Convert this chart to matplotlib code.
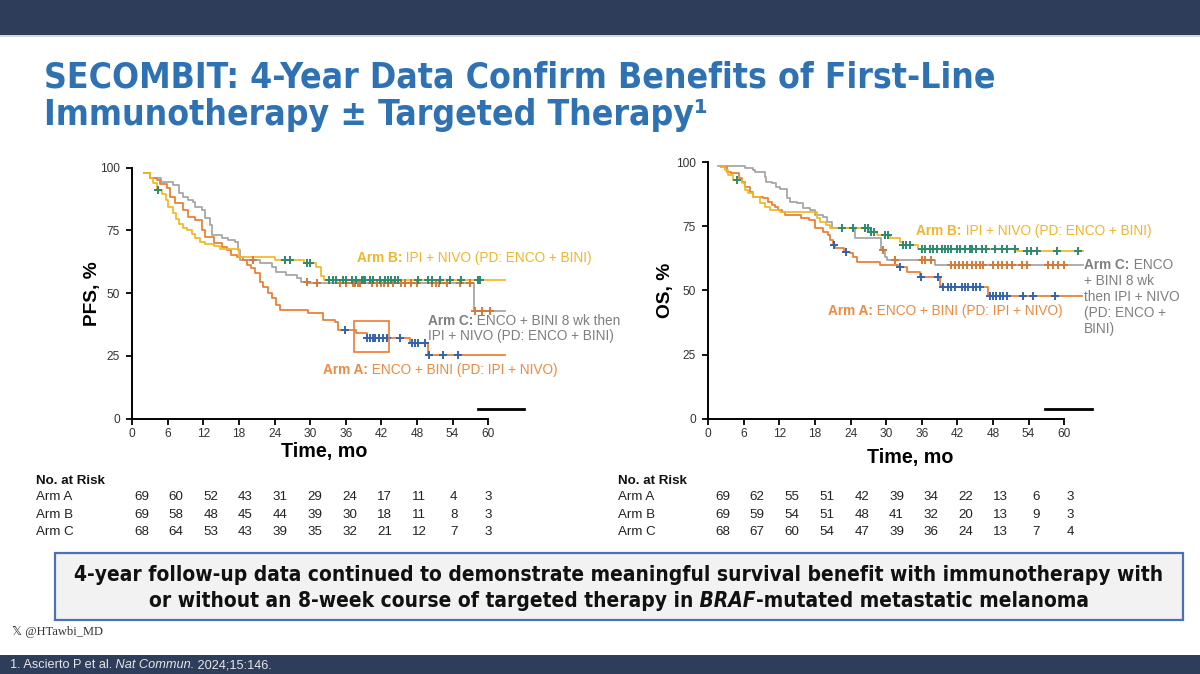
import numpy as np
import matplotlib
matplotlib.use("Agg")
import matplotlib.pyplot as plt
from matplotlib.patches import Rectangle

# ---------------- data ----------------
months_ticks = [0, 6, 12, 18, 24, 30, 36, 42, 48, 54, 60]
pct_ticks = [0, 25, 50, 75, 100]

# PFS step curves (time of step, survival % after step)
pfs_a_t = [2.0, 3.0, 4.1, 4.6, 5.8, 6.3, 7.2, 8.6, 9.4, 10.6, 11.7, 12.3, 13.7, 15.1, 15.9, 16.7,
           17.6, 18.7, 19.3, 20.1, 20.7, 21.5, 22.1, 22.9, 23.5, 24.3, 24.9, 29.7, 32.2, 34.2, 34.7,
           37.8, 39.5, 46.8, 49.9, 62.8]
pfs_a_s = [98, 95.8, 95.1, 93.5, 91.8, 88.4, 85.8, 83.1, 80.5, 79.2, 75.2, 72.5, 69.9, 68.5, 67.2, 65.2,
           64.5, 63.2, 61.2, 59.9, 57.9, 54.6, 52.6, 49.9, 47.9, 45.3, 43.3, 42.0, 39.3, 38.6, 35.3,
           34.3, 32.0, 30.3, 25.4, 25.4]
pfs_b_t = [2.0, 3.0, 3.5, 4.2, 5.0, 5.6, 6.1, 6.8, 7.3, 7.9, 8.6, 9.2, 10.0, 10.6, 11.5, 12.3, 13.7,
           14.8, 18.0, 24.0, 29.0, 31.0, 31.8, 32.3, 62.8]
pfs_b_s = [98, 96, 94, 91, 89.5, 87, 84.5, 82, 79.5, 77.5, 76, 75, 73.5, 72, 70.5, 69.5, 69,
           67.5, 64.5, 63.3, 62.0, 60.5, 57.0, 55.2, 55.2]
pfs_c_t = [2.0, 3.0, 4.9, 6.9, 7.8, 8.6, 9.4, 10.3, 10.6, 11.7, 12.3, 13.1, 13.4, 15.1, 16.2, 17.3,
           17.9, 18.2, 21.5, 23.5, 24.3, 26.0, 27.7, 28.5, 29.5, 57.6, 62.8]
pfs_c_s = [98, 95.8, 94.5, 93.1, 89.8, 88.5, 87.1, 86.5, 84.5, 83.2, 79.8, 77.2, 73.2, 71.8, 71.2, 70.5,
           67.2, 63.2, 61.9, 60.6, 58.6, 57.2, 55.9, 54.6, 54.0, 43.0, 43.0]
# PFS censor times
pfs_a_cens = [35.8, 39.6, 40.1, 40.6, 41.0, 41.6, 42.2, 42.9, 45.1, 47.1, 47.6, 48.1, 49.3, 50.1, 52.4, 54.9]
pfs_b_cens = [4.4, 25.7, 26.6, 29.4, 29.9, 33.2, 33.8, 34.3, 35.6, 36.1, 37.1, 37.7, 38.7, 38.9, 39.3,
              40.1, 40.6, 41.7, 42.6, 43.1, 43.7, 44.3, 44.8, 48.2, 49.9, 50.5, 51.9, 53.5, 55.5, 58.3, 58.6]
pfs_c_cens = [20.4, 29.4, 31.1, 35.0, 36.0, 37.2, 37.6, 38.0, 38.4, 40.5, 41.3, 42.0, 42.5, 43.2, 44.0,
              45.3, 46.0, 47.0, 48.0, 50.6, 51.2, 51.8, 53.0, 55.2, 57.0, 57.8, 58.9, 60.3]

# OS step curves
os_a_t = [2.2, 3.1, 3.9, 5.1, 5.6, 6.2, 7.0, 7.6, 9.3, 10.1, 10.7, 11.2, 11.8, 12.4, 12.9, 15.7, 16.9,
          18.0, 19.4, 20.2, 20.5, 21.0, 21.3, 22.8, 23.9, 24.4, 25.0, 28.9, 32.0, 33.5, 35.7, 39.0, 39.3,
          47.2, 63.0]
os_a_s = [98.3, 96.4, 95.7, 93.8, 92.5, 90.5, 88.6, 86.6, 86.0, 84.7, 83.4, 82.7, 81.4, 80.8, 79.5, 78.2, 77.5,
          74.2, 73.0, 71.6, 69.7, 67.8, 66.5, 65.1, 64.5, 63.2, 61.2, 60.0, 59.3, 57.3, 55.4, 52.2, 51.5,
          47.8, 47.8]
os_b_t = [2.2, 2.8, 3.4, 4.2, 5.6, 6.2, 6.7, 7.6, 8.7, 9.6, 10.4, 12.1, 18.3, 18.8, 19.9, 20.5, 27.2,
          28.4, 30.6, 32.3, 32.9, 35.4, 52.0, 63.2]
os_b_s = [98.3, 97.0, 95.1, 93.1, 91.8, 89.2, 87.9, 86.6, 84.0, 82.7, 81.4, 80.8, 78.2, 76.9, 75.6, 74.5, 73.0,
          71.6, 70.4, 69.0, 67.8, 66.2, 65.3, 65.3]
os_c_t = [1.7, 6.2, 7.6, 7.9, 9.5, 9.8, 10.7, 11.5, 12.1, 13.2, 13.8, 14.9, 16.0, 17.2, 18.0, 19.4,
          20.0, 20.8, 24.7, 29.2, 29.8, 30.1, 38.2, 63.2]
os_c_s = [98.7, 97.7, 97.0, 96.3, 94.3, 92.5, 91.8, 90.5, 89.5, 86.0, 84.7, 84.0, 82.1, 81.4, 79.4, 78.8,
          76.8, 74.3, 70.3, 65.8, 63.2, 61.9, 60.0, 60.0]
# OS censor times
os_a_cens = [21.2, 23.3, 32.3, 35.8, 35.9, 38.8, 39.6, 40.4, 41.0, 41.6, 42.7, 43.3, 43.8, 44.7, 45.2,
             45.8, 47.5, 48.0, 48.6, 49.2, 49.7, 50.3, 53.1, 54.8, 58.5]
os_b_cens = [4.8, 22.5, 24.4, 26.4, 27.0, 27.5, 27.9, 29.8, 30.3, 32.9, 33.4, 34.0, 36.0, 36.5, 37.4, 37.9,
             38.5, 39.4, 39.9, 40.5, 41.0, 41.9, 42.4, 43.3, 44.1, 44.4, 45.2, 46.1, 46.9, 48.3, 49.5,
             50.3, 51.7, 53.7, 54.5, 55.4, 58.8, 62.4]
os_c_cens = [29.5, 31.5, 36.0, 36.5, 37.6, 41.0, 41.6, 42.2, 43.0, 43.7, 44.4, 45.2, 45.8, 46.4, 48.0,
             48.9, 49.5, 50.3, 51.2, 52.9, 53.7, 57.3, 58.2, 59.0, 59.9]

risk_rows = ["Arm A", "Arm B", "Arm C"]
pfs_risk_a = [69, 60, 52, 43, 31, 29, 24, 17, 11, 4, 3]
pfs_risk_b = [69, 58, 48, 45, 44, 39, 30, 18, 11, 8, 3]
pfs_risk_c = [68, 64, 53, 43, 39, 35, 32, 21, 12, 7, 3]
os_risk_a = [69, 62, 55, 51, 42, 39, 34, 22, 13, 6, 3]
os_risk_b = [69, 59, 54, 51, 48, 41, 32, 20, 13, 9, 3]
os_risk_c = [68, 67, 60, 54, 47, 39, 36, 24, 13, 7, 4]

# ---------------- style ----------------
W, H = 1200, 674
ORANGE = "#EB7C31"
YELLOW = "#F4B720"
GRAY = "#A3A3A3"
ORANGE_T = "#EC8A42"
YELLOW_T = "#F2B52A"
GRAY_T = "#7F7F7F"
BLUE_C = "#3463AE"
GREEN_C = "#2C8A6E"
BROWN_C = "#D27A3A"
NAVY = "#2E3D5A"
TITLE_BLUE = "#2F72B4"
SANS = "Liberation Sans"

plt.rcParams["font.family"] = SANS

fig = plt.figure(figsize=(W / 100, H / 100), dpi=100)
fig.patch.set_facecolor("white")
renderer = fig.canvas.get_renderer()


def fx(x):
    return x / W


def fy(y):
    return 1 - y / H


def step_value(t, s, c):
    t = np.asarray(t)
    s = np.asarray(s)
    idx = np.searchsorted(t, c, side="right") - 1
    idx = np.clip(idx, 0, len(s) - 1)
    return s[idx]


def fig_runs(parts, x_px, y_px, ha="left", **common):
    """Place consecutive text runs (text, extra kwargs) on one line in figure pixel coords."""
    texts = []
    widths = []
    for s, kw in parts:
        k = dict(common)
        k.update(kw)
        t = fig.text(0, fy(y_px), s, va="center", ha="left", **k)
        widths.append(t.get_window_extent(renderer).width)
        texts.append(t)
    total = sum(widths)
    x = x_px - total / 2 if ha == "center" else x_px
    for t, w in zip(texts, widths):
        t.set_x(fx(x))
        x += w
    return texts


def two_part(ax, x, y, head, tail, color, size=9.8):
    t1 = ax.text(x, y, head, color=color, fontsize=size, fontweight="bold",
                 va="center", ha="left", clip_on=False)
    ax.annotate(tail, xy=(1, 0), xycoords=t1, xytext=(0, 0), textcoords="offset points",
                color=color, fontsize=size, va="bottom", ha="left", annotation_clip=False)
    return t1


def make_km(left_px, top_px, ylabel):
    bottom_px = 418.7
    width_px = 66 * 5.93
    ax = fig.add_axes([fx(left_px), fy(bottom_px), width_px / W, (bottom_px - top_px) / H])
    ax.set_xlim(0, 66)
    ax.set_ylim(0, 100)
    for sp in ["top", "right"]:
        ax.spines[sp].set_visible(False)
    for sp in ["left", "bottom"]:
        ax.spines[sp].set_linewidth(1.4)
        ax.spines[sp].set_color("black")
    ax.spines["bottom"].set_bounds(0, 60)
    ax.set_xticks(months_ticks)
    ax.set_yticks(pct_ticks)
    ax.tick_params(axis="both", direction="out", length=4, width=1.3, labelsize=8.6,
                   labelcolor="#333333", pad=3)
    ax.tick_params(axis="y", pad=5)
    ax.set_facecolor("none")
    ax.set_ylabel(ylabel, fontsize=13.8, fontweight="bold")
    return ax


def draw_arm(ax, t, s, cens, line_color, cens_color):
    ax.step(t, s, where="post", color=line_color, lw=1.25, zorder=3, clip_on=False)
    cy = step_value(t, s, np.asarray(cens))
    ax.plot(cens, cy, linestyle="none", marker="+", ms=6, mew=1.4, color=cens_color,
            zorder=4, clip_on=False)


# ---------------- header / title ----------------
fig.add_artist(Rectangle((0, fy(35)), 1, 35 / H, transform=fig.transFigure,
                         facecolor=NAVY, edgecolor="none"))
fig.add_artist(Rectangle((0, fy(36.5)), 1, 1.5 / H, transform=fig.transFigure,
                         facecolor="#D5D9E0", edgecolor="none"))
title_kw = dict(fontsize=25.5, fontweight="bold", color=TITLE_BLUE, family="DejaVu Sans",
                fontstretch="condensed", va="center", ha="left")
fig.text(fx(44), fy(78), "SECOMBIT: 4-Year Data Confirm Benefits of First-Line", **title_kw)
fig.text(fx(44), fy(115), "Immunotherapy \u00b1 Targeted Therapy\u00b9", **title_kw)

# ---------------- PFS panel ----------------
ax1 = make_km(132.3, 167.7, "PFS, %")
draw_arm(ax1, pfs_c_t, pfs_c_s, pfs_c_cens, GRAY, BROWN_C)
draw_arm(ax1, pfs_a_t, pfs_a_s, pfs_a_cens, ORANGE, BLUE_C)
draw_arm(ax1, pfs_b_t, pfs_b_s, pfs_b_cens, YELLOW, GREEN_C)
ax1.add_patch(Rectangle((37.4, 26.4), 5.9, 12.6, facecolor="none", edgecolor=ORANGE, lw=1.2,
                        zorder=5, clip_on=False))
ax1.plot([58.3, 66.0], [3.7, 3.7], color="black", lw=2, clip_on=False)
two_part(ax1, 37.9, 63.9, "Arm B:", " IPI + NIVO (PD: ENCO + BINI)", YELLOW_T)
two_part(ax1, 49.8, 39.0, "Arm C:", " ENCO + BINI 8 wk then", GRAY_T)
ax1.text(49.8, 32.9, "IPI + NIVO (PD: ENCO + BINI)", color=GRAY_T, fontsize=9.8, va="center",
         ha="left", clip_on=False)
two_part(ax1, 32.2, 19.4, "Arm A:", " ENCO + BINI (PD: IPI + NIVO)", ORANGE_T)
ax1.yaxis.set_label_coords(-0.08, 0.5)
fig.text(fx(324), fy(452), "Time, mo", fontsize=14.2, fontweight="bold", ha="center", va="center")

# ---------------- OS panel ----------------
ax2 = make_km(708.3, 162.3, "OS, %")
draw_arm(ax2, os_c_t, os_c_s, os_c_cens, GRAY, BROWN_C)
draw_arm(ax2, os_a_t, os_a_s, os_a_cens, ORANGE, BLUE_C)
draw_arm(ax2, os_b_t, os_b_s, os_b_cens, YELLOW, GREEN_C)
ax2.plot([56.8, 64.7], [3.9, 3.9], color="black", lw=2, clip_on=False)
two_part(ax2, 35.1, 73.3, "Arm B:", " IPI + NIVO (PD: ENCO + BINI)", YELLOW_T)
two_part(ax2, 63.4, 59.9, "Arm C:", " ENCO", GRAY_T)
for yy, line in zip([53.8, 47.6, 41.3, 35.0], ["+ BINI 8 wk", "then IPI + NIVO", "(PD: ENCO +", "BINI)"]):
    ax2.text(63.4, yy, line, color=GRAY_T, fontsize=9.8, va="center", ha="left", clip_on=False)
two_part(ax2, 20.2, 42.0, "Arm A:", " ENCO + BINI (PD: IPI + NIVO)", ORANGE_T)
ax2.yaxis.set_label_coords(-0.088, 0.5)
fig.text(fx(910), fy(458), "Time, mo", fontsize=14.2, fontweight="bold", ha="center", va="center")

# ---------------- numbers at risk ----------------
row_y = [497, 515, 532]
RISK_FS = 9.6


def risk_table(x_label, x0, dx, rows):
    fig.text(fx(x_label), fy(481), "No. at Risk", fontsize=RISK_FS, fontweight="bold", va="center",
             ha="left", color="#111111")
    for name, vals, yy in zip(risk_rows, rows, row_y):
        fig.text(fx(x_label), fy(yy), name, fontsize=RISK_FS, va="center", ha="left", color="#222222")
        for i, v in enumerate(vals):
            fig.text(fx(x0 + i * dx), fy(yy), str(v), fontsize=RISK_FS, va="center", ha="center",
                     color="#222222")


risk_table(36, 141.5, 34.7, [pfs_risk_a, pfs_risk_b, pfs_risk_c])
risk_table(618, 722.5, 34.8, [os_risk_a, os_risk_b, os_risk_c])

# ---------------- summary box ----------------
fig.add_artist(Rectangle((fx(55), fy(620)), (1183 - 55) / W, (620 - 553) / H,
                         transform=fig.transFigure, facecolor="#F2F2F2", edgecolor="#4A71B5", lw=1.6))
box_kw = dict(fontsize=15, fontweight="bold", color="#111111", family="DejaVu Sans",
              fontstretch="condensed")
fig_runs([("4-year follow-up data continued to demonstrate meaningful survival benefit "
           "with immunotherapy with", {})], 619, 575, ha="center", **box_kw)
fig_runs([("or without an 8-week course of targeted therapy in", {}),
          (" BRAF", {"fontstyle": "italic"}),
          ("-mutated metastatic melanoma", {})], 619, 601, ha="center", **box_kw)

# ---------------- handle / footer ----------------
fig.text(fx(12), fy(632), "\U0001D54F @HTawbi_MD", fontsize=9, color="#333333",
         family=["Liberation Serif", "DejaVu Sans"], va="center", ha="left")
fig.add_artist(Rectangle((0, 0), 1, (674 - 655) / H, transform=fig.transFigure,
                         facecolor=NAVY, edgecolor="none"))
fig_runs([("1. Ascierto P et al.", {}), (" Nat Commun.", {"fontstyle": "italic"}),
          (" 2024;15:146.", {})], 10, 665, fontsize=9.2, color="#E6E6E6")

fig.savefig("out.png", dpi=100)
